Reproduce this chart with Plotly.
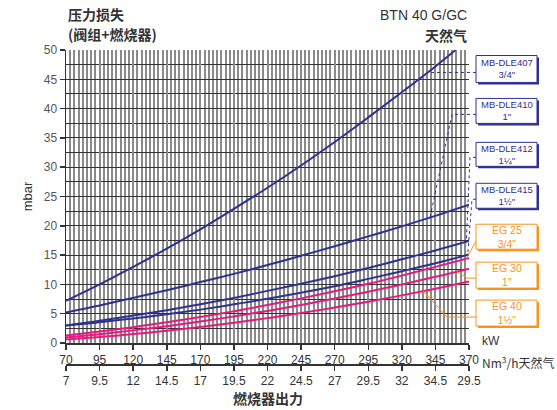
import numpy as np
import plotly.graph_objects as go

# ---------------- data ----------------
kw = [70, 95, 120, 145, 170, 195, 220, 245, 270, 295, 320, 345, 370]
kw_407 = [70, 95, 120, 145, 170, 195, 220, 245, 270, 295, 320, 345, 360]
dle407 = [7.2, 10.0, 13.0, 16.1, 19.4, 22.9, 26.5, 30.3, 34.3, 38.5, 42.8, 47.2, 50.0]
dle410 = [5.2, 6.4, 7.7, 9.0, 10.4, 11.8, 13.3, 14.9, 16.5, 18.2, 19.9, 21.7, 23.6]
dle412 = [3.0, 3.8, 4.7, 5.6, 6.6, 7.7, 8.9, 10.1, 11.4, 12.8, 14.3, 15.8, 17.4]
dle415 = [3.0, 3.55, 4.2, 4.9, 5.7, 6.6, 7.55, 8.6, 9.7, 10.95, 12.25, 13.6, 15.1]
eg25 = [1.3, 1.96, 2.71, 3.53, 4.43, 5.42, 6.48, 7.62, 8.83, 10.1, 11.5, 13.0, 14.5]
eg30 = [0.95, 1.52, 2.16, 2.88, 3.67, 4.54, 5.48, 6.5, 7.59, 8.75, 10.0, 11.3, 12.7]
eg40 = [0.6, 1.03, 1.53, 2.1, 2.75, 3.46, 4.25, 5.11, 6.05, 7.05, 8.13, 9.28, 10.5]

kw_ticks = [70, 95, 120, 145, 170, 195, 220, 245, 270, 295, 320, 345, 370]
gas_ticks = [7, 9.5, 12, 14.5, 17, 19.5, 22, 24.5, 27, 29.5, 32, 34.5, 37]
gas_labels = ["7", "9.5", "12", "14.5", "17", "19.5", "22", "24.5", "27", "29.5", "32", "34.5", "29.5"]

BLUE = "#2e3192"
PINK = "#e6197f"
ORANGE = "#f7941d"
TXT = "#333333"
FONT = "Liberation Sans, Arial, Noto Sans CJK SC, sans-serif"
CJK = "Noto Sans CJK SC, Liberation Sans, sans-serif"

# ---------------- geometry helpers ----------------
L, R, T, B = 66, 469, 49.5, 365.0
AX0 = 343.0  # pixel of main x axis
W, H = R - L, B - T
ydom0 = (B - AX0) / H


def ppx(px):
    return (px - L) / W


def ppy(py):
    return (B - py) / H


def dx(k):
    return (k - 70) / 300.0


def dy(m):
    return ydom0 + m / 50.0 * (1 - ydom0)


fig = go.Figure()

series = [
    (kw_407, dle407, BLUE),
    (kw, dle410, BLUE),
    (kw, dle412, BLUE),
    (kw, dle415, BLUE),
    (kw, eg25, PINK),
    (kw, eg30, PINK),
    (kw, eg40, PINK),
]
for xs, ys, c in series:
    fig.add_trace(go.Scatter(x=xs, y=ys, mode="lines", line=dict(color=c, width=2, shape="spline"),
                             showlegend=False, hoverinfo="skip"))

# dummy trace for secondary (gas) axis
fig.add_trace(go.Scatter(x=[gas_ticks[0], gas_ticks[-1]], y=[None, None], xaxis="x2",
                         mode="lines", showlegend=False, hoverinfo="skip"))

shapes = []
annotations = []

# ---------------- label boxes ----------------
boxes = [
    ("MB-DLE407<br>3/4\"", 55, 82, BLUE),
    ("MB-DLE410<br>1\"", 98, 123, BLUE),
    ("MB-DLE412<br>1¼\"", 142, 166, BLUE),
    ("MB-DLE415<br>1½\"", 183, 208, BLUE),
    ("EG 25<br>3/4\"", 224, 249, ORANGE),
    ("EG 30<br>1\"", 262, 288, ORANGE),
    ("EG 40<br>1½\"", 300, 326, ORANGE),
]
bx0, bx1 = 476, 537
for text, y0, y1, c in boxes:
    shapes.append(dict(type="rect", xref="paper", yref="paper",
                       x0=ppx(bx0 + 2), x1=ppx(bx1 + 2), y0=ppy(y1 + 2), y1=ppy(y0 + 2),
                       fillcolor=c, line=dict(width=0), layer="above"))
    shapes.append(dict(type="rect", xref="paper", yref="paper",
                       x0=ppx(bx0), x1=ppx(bx1), y0=ppy(y1), y1=ppy(y0),
                       fillcolor="white", line=dict(color=c, width=1), layer="above"))
    annotations.append(dict(xref="paper", yref="paper", x=ppx((bx0 + bx1) / 2), y=ppy((y0 + y1) / 2),
                            text=text, showarrow=False, xanchor="center", yanchor="middle",
                            font=dict(family=FONT, size=9.5 if c == BLUE else 10.5, color=c)))

# ---------------- leader lines ----------------
m407 = (AX0 - 72) / ((AX0 - T) / 50.0)
k407 = float(np.interp(m407, dle407, kw_407))
leaders = [
    ([(ppx(476), ppy(72))], k407, m407, BLUE, "dot"),
    ([(ppx(476), ppy(114)), (ppx(452), ppy(114))], 341, float(np.interp(341, kw, dle410)), BLUE, "dot"),
    ([(ppx(476), ppy(157)), (ppx(470), ppy(157))], 368, float(np.interp(368, kw, dle412)), BLUE, "dot"),
    ([(ppx(476), ppy(199)), (ppx(472), ppy(199))], 369, float(np.interp(369, kw, dle415)), BLUE, "dot"),
    ([(ppx(476), ppy(241))], 368, float(np.interp(368, kw, eg25)), ORANGE, "solid"),
    ([(ppx(476), ppy(278)), (ppx(467), ppy(278))], 361, float(np.interp(361, kw, eg30)), ORANGE, "solid"),
    ([(ppx(476), ppy(317)), (ppx(447), ppy(317))], 336, float(np.interp(336, kw, eg40)), ORANGE, "solid"),
]
for pts, k, m, c, dash in leaders:
    allp = pts + [(dx(k), dy(m))]
    path = "M " + " L ".join(f"{a:.5f},{b:.5f}" for a, b in allp)
    shapes.append(dict(type="path", xref="paper", yref="paper", path=path,
                       line=dict(color=c, width=1, dash=dash), layer="above"))

# ---------------- texts ----------------
annotations += [
    dict(xref="paper", yref="paper", x=ppx(66), y=ppy(13), text="<b>压力损失</b>", showarrow=False,
         xanchor="left", yanchor="middle", font=dict(family=CJK, size=14, color=TXT)),
    dict(xref="paper", yref="paper", x=ppx(66), y=ppy(33), text="<b>(阀组+燃烧器)</b>", showarrow=False,
         xanchor="left", yanchor="middle", font=dict(family=CJK, size=14, color=TXT)),
    dict(xref="paper", yref="paper", x=ppx(469), y=ppy(14), text="BTN 40 G/GC", showarrow=False,
         xanchor="right", yanchor="middle", font=dict(family=FONT, size=14, color=TXT)),
    dict(xref="paper", yref="paper", x=ppx(469), y=ppy(34), text="<b>天然气</b>", showarrow=False,
         xanchor="right", yanchor="middle", font=dict(family=CJK, size=14, color=TXT)),
    dict(xref="paper", yref="paper", x=ppx(480), y=ppy(341), text="kW", showarrow=False,
         xanchor="left", yanchor="middle", font=dict(family=FONT, size=12, color=TXT)),
    dict(xref="paper", yref="paper", x=ppx(480), y=ppy(362), text="Nm<sup>3</sup>/h天然气", showarrow=False,
         xanchor="left", yanchor="middle", font=dict(family=CJK, size=12, color=TXT)),
    dict(xref="paper", yref="paper", x=ppx(267.5), y=ppy(398), text="<b>燃烧器出力</b>", showarrow=False,
         xanchor="center", yanchor="middle", font=dict(family=CJK, size=14, color=TXT)),
    dict(xref="paper", yref="paper", x=ppx(27), y=ppy(196), text="mbar", showarrow=False, textangle=-90,
         xanchor="center", yanchor="middle", font=dict(family=FONT, size=13, color=TXT)),
]

fig.update_layout(
    width=557, height=410,
    margin=dict(l=L, r=557 - R, t=T, b=410 - B, pad=0),
    paper_bgcolor="white", plot_bgcolor="white",
    showlegend=False,
    font=dict(family=FONT, size=12, color=TXT),
    xaxis=dict(range=[70, 370], tickvals=kw_ticks, ticks="outside", ticklen=5, tickwidth=1.5,
               tickcolor=TXT, showline=True, linecolor=TXT, linewidth=1.5,
               showgrid=True, gridcolor="#8a8a8a", gridwidth=2, zeroline=False, anchor="y",
               tickfont=dict(family=FONT, size=12, color=TXT),
               minor=dict(dtick=3.125, tick0=70, showgrid=True, gridcolor="#8a8a8a", gridwidth=2)),
    xaxis2=dict(range=[gas_ticks[0], gas_ticks[-1]], tickvals=gas_ticks, ticktext=gas_labels,
                overlaying="x", anchor="free", position=0, side="bottom",
                ticks="outside", ticklen=5, tickwidth=1.5, tickcolor=TXT,
                showline=True, linecolor=TXT, linewidth=2, showgrid=False, zeroline=False,
                tickfont=dict(family=FONT, size=12, color=TXT)),
    yaxis=dict(range=[0, 50], domain=[ydom0, 1], dtick=5, tick0=0, ticks="outside", ticklen=5,
               tickwidth=1.5, tickcolor=TXT, showline=True, linecolor=TXT, linewidth=1.5,
               showgrid=True, gridcolor="#333333", gridwidth=1, zeroline=False,
               tickfont=dict(family=FONT, size=12, color="#555555"),
               minor=dict(dtick=2.5, tick0=0, showgrid=True, gridcolor="#333333", gridwidth=1)),
    shapes=shapes,
    annotations=annotations,
)

fig.write_html("out.html", config={"displayModeBar": False, "staticPlot": True},
               post_script="document.body.style.margin='0';document.body.style.overflow='hidden';")
